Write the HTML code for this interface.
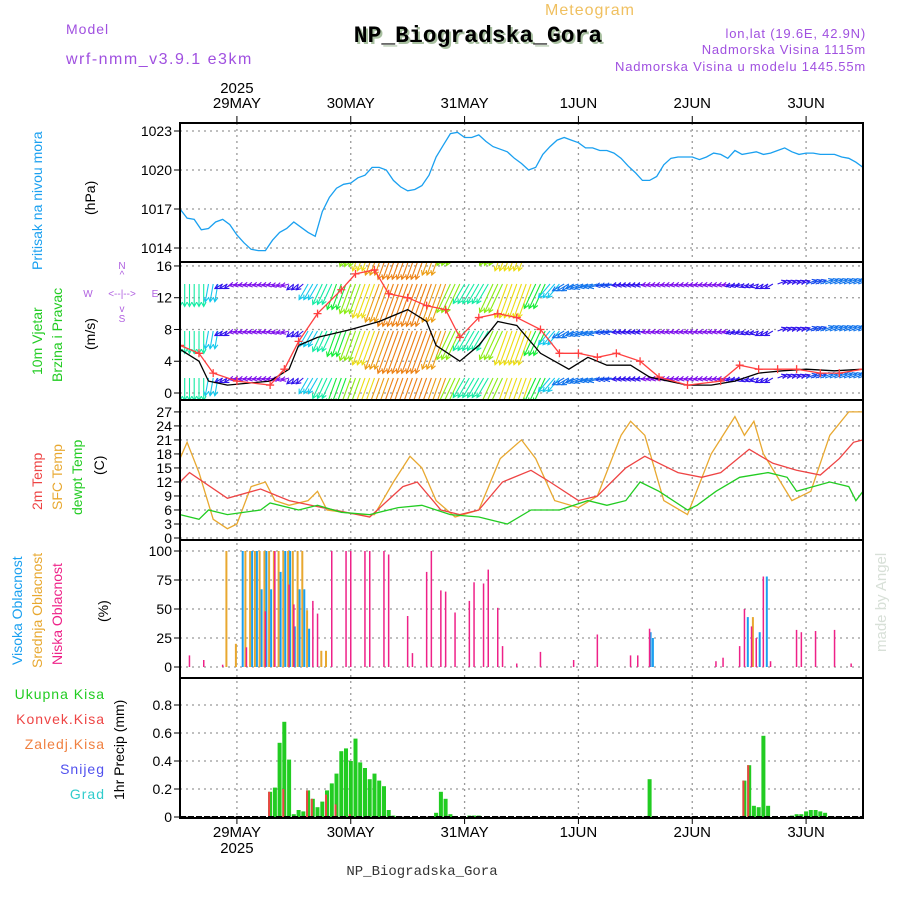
<!DOCTYPE html>
<html><head><meta charset="utf-8"><style>
html,body{margin:0;padding:0;background:#fff;width:900px;height:900px;overflow:hidden}
svg{display:block}
text{font-family:"Liberation Sans",sans-serif}
</style></head><body>
<svg id="chart" width="900" height="900" viewBox="0 0 900 900" xmlns="http://www.w3.org/2000/svg">
<defs><clipPath id="windclip"><rect x="180" y="262" width="683" height="138"/></clipPath></defs>
<g>
<text x="590" y="15" font-size="16" fill="#f0c060" text-anchor="middle" letter-spacing="1">Meteogram</text>
<text x="66" y="34" font-size="14" fill="#a050e0" letter-spacing="1">Model</text>
<text x="66" y="64" font-size="16" fill="#a050e0" letter-spacing="1.5">wrf-nmm_v3.9.1 e3km</text>
<text x="480" y="44" font-size="23" font-weight="bold" fill="#a8c0a0" text-anchor="middle" style="font-family:'Liberation Mono',monospace">NP_Biogradska_Gora</text>
<text x="478" y="42" font-size="23" font-weight="bold" fill="#000" text-anchor="middle" style="font-family:'Liberation Mono',monospace">NP_Biogradska_Gora</text>
<text x="866" y="38" font-size="13" fill="#a050e0" text-anchor="end" letter-spacing="0.8">lon,lat (19.6E, 42.9N)</text>
<text x="866" y="54" font-size="13" fill="#a050e0" text-anchor="end" letter-spacing="0.8">Nadmorska Visina 1115m</text>
<text x="866" y="71" font-size="13" fill="#a050e0" text-anchor="end" letter-spacing="0.8">Nadmorska Visina u modelu 1445.55m</text>
</g>
<g id="grid"></g>
<g id="marks"></g>
<g id="axes"></g>
<g font-size="14">
<text transform="translate(42,270) rotate(-90)" fill="#1aa0f0">Pritisak na nivou mora</text>
<text transform="translate(95,215) rotate(-90)" fill="#000">(hPa)</text>
<text transform="translate(42,375) rotate(-90)" fill="#22cc22">10m Vjetar</text>
<text transform="translate(62,382) rotate(-90)" fill="#22cc22">Brzina i Pravac</text>
<text transform="translate(95,350) rotate(-90)" fill="#000">(m/s)</text>
<g fill="#b060e0" font-size="10">
<text x="122" y="269" text-anchor="middle">N</text><text x="122" y="278" text-anchor="middle">^</text>
<text x="88" y="297" text-anchor="middle">W</text><text x="122" y="297" text-anchor="middle">&lt;--|--&gt;</text><text x="155" y="297" text-anchor="middle">E</text>
<text x="122" y="312" text-anchor="middle">v</text><text x="122" y="322" text-anchor="middle">S</text>
</g>
<text transform="translate(42,510) rotate(-90)" fill="#ee4444">2m Temp</text>
<text transform="translate(62,510) rotate(-90)" fill="#e8a830">SFC Temp</text>
<text transform="translate(82,515) rotate(-90)" fill="#22cc22">dewpt Temp</text>
<text transform="translate(104,475) rotate(-90)" fill="#000">(C)</text>
<text transform="translate(22,665) rotate(-90)" fill="#1aa0f0">Visoka Oblacnost</text>
<text transform="translate(42,668) rotate(-90)" fill="#e8a830">Srednja Oblacnost</text>
<text transform="translate(62,665) rotate(-90)" fill="#ee2288">Niska Oblacnost</text>
<text transform="translate(108,622) rotate(-90)" fill="#000">(%)</text>
<text x="105" y="699" text-anchor="end" fill="#22cc22" letter-spacing="1">Ukupna  Kisa</text>
<text x="105" y="724" text-anchor="end" fill="#ee4444" letter-spacing="1">Konvek.Kisa</text>
<text x="105" y="749" text-anchor="end" fill="#f08040" letter-spacing="1">Zaledj.Kisa</text>
<text x="105" y="774" text-anchor="end" fill="#5050ee" letter-spacing="1">Snijeg</text>
<text x="105" y="799" text-anchor="end" fill="#30cccc" letter-spacing="1">Grad</text>
<text transform="translate(124,800) rotate(-90)" fill="#000">1hr Precip (mm)</text>
<text transform="translate(886,652) rotate(-90)" fill="#d8e0d8" font-size="15">made by Angel</text>
</g>
<text x="422" y="875" font-size="14" fill="#333" text-anchor="middle" style="font-family:'Liberation Mono',monospace">NP_Biogradska_Gora</text>
</svg>
<script>
// ---- data ----
const dayLabels = ["29MAY","30MAY","31MAY","1JUN","2JUN","3JUN"];
const dayHours = [12,36,60,84,108,132];
const pressTicks = [1014,1017,1020,1023];
const windTicks = [0,4,8,12,16];
const tempTicks = [0,3,6,9,12,15,18,21,24,27];
const cloudTicks = [0,25,50,75,100];
const precipTicks = [0,0.2,0.4,0.6,0.8];
const pressure = [1017.0,1016.3,1016.2,1015.4,1015.5,1016.0,1016.2,1015.8,1015.0,1014.4,1013.9,1013.8,1013.8,1014.6,1015.2,1015.5,1016.0,1015.6,1015.2,1014.9,1016.8,1017.9,1018.6,1018.9,1019.0,1019.4,1019.6,1020.2,1020.2,1020.0,1019.2,1018.7,1018.4,1018.5,1018.8,1019.6,1021.0,1021.9,1022.8,1022.9,1022.5,1022.5,1022.7,1022.2,1021.8,1021.6,1021.4,1020.9,1020.5,1020.0,1020.2,1021.2,1021.8,1022.3,1022.5,1022.3,1022.1,1021.7,1021.7,1021.5,1021.5,1021.3,1020.9,1020.3,1019.8,1019.2,1019.2,1019.5,1020.4,1020.9,1021.0,1021.0,1021.0,1020.8,1021.0,1021.3,1021.2,1020.9,1021.5,1021.2,1021.3,1021.4,1021.2,1021.3,1021.5,1021.7,1021.4,1021.2,1021.3,1021.3,1021.2,1021.2,1021.2,1021.0,1020.9,1020.6,1020.2];
const t2mHours = [0,2,10,17,23,30,40,47,50,55,59,63,68,74,78,84,88,94,98,101,105,110,114,120,125,130,135,139,142,144];
const t2m = [12,14,8.5,10.5,8,6.5,4.5,11,12,6,5,6,12,14.5,12,8,9,15,17.5,16,14,13,14,19,16,14.5,13.5,17,20.5,21];
const sfcHours = [0,1.5,4,7,10,12,15,18,20,23,27,29,31,38,41,45,48.5,51,54,58,63,67.5,72,75,79,84,88,93,95,98,102,107,112,117,119,121,123,129,133,137,141,144];
const sfcTemp = [17,20.5,14,4,2,3,11,12,8,7,8,10,6,5,5,12,17.5,15,8,4.5,6,17,21,17,8,6.5,9,22,25,22,8,5,18,26,22,25,18,8,10,22,27,27];
const dewHours = [0,4,6,10,17,19,25,29,34,40,46,51,57,63,69,74,80,86,90,94,97,101,107,109,113,118,124,128,130,137,141,142.5,144];
const dewpt = [5,4,6,5,6,7.5,6,7,5.5,5,6.5,7,5,4.5,3,6,6,8,7,8,12,10,6,7,10,13,14,13,10,12,11,8,10];
const gustHours = [0,4,7,12,19,22,25,29,34,37,41,44,48,52,56,59,63,67,71,76,80,84,88,92,97,101,107,114,118,122,126,130,135,139,144];
const gust = [6,5,2.5,1.5,1,3,6.5,10,13,15,15.5,12.5,12,11,10.5,7,9.5,10,9.5,8,5,5,4.5,5,4,2,1,1.5,3.5,3,3,3,2.5,2.5,3];
const speedHours = [0,4,6,10,19,23,25,29,36,42,48,52,54,59,63,67,71,76,82,86,90,95,99,103,107,112,117,122,127,132,138,144];
const speed = [5.5,4,1.5,1,1.5,3,6,7,8,9,10.5,9,6,4,6,9,8.5,5,3,4.5,3.5,3.5,2,1.5,1,1,1.5,2.5,2.8,3,2.8,3];
const windSpd = [5,5,4,2,1.5,1.5,1.5,1.5,2,4,5,6,7,8,9,10,10,10,9,7,5,5,7,8,8,6,4,3,3,3,2.5,2,2,1.5,1.5,1.5,1.5,1.5,1.5,2,2,2,2,2,2.5,3,3,3,3];
const windDir = [0,0,10,60,80,80,80,75,50,30,25,20,20,20,20,20,20,20,20,25,30,30,25,20,20,25,40,60,70,75,80,80,80,80,80,80,80,80,80,75,70,60,250,250,250,250,250,250,250];
const highHours = [13,15,16,17,18,19,21,22,23,24,25,26,27,99,99.5,119.5,122,123.5];
const highCloud = [100,100,100,67,100,67,82,100,100,35,67,67,33,30,25,43,30,78];
const midHours = [10,12,14,15,16,17,18,19,20,21,22,23,24,25,26,27,30,31,121];
const midCloud = [100,20,100,100,100,100,100,100,100,100,100,100,100,100,100,49,14,14,43];
const lowHours = [2,5,9,14,18,20,23,24,28,29,32,35,36,39,40,43,44,48,49,52,53,55,56,58,61,62,64,65,67,68,71,76,83,88,95,96.5,99,113,114.5,118,119,120.5,121.5,123,124.5,130,131,134,138,141.5];
const lowCloud = [10,6,2,17,48,100,71,54,57,46,100,100,100,100,100,100,97,44,12,82,100,66,65,47,57,73,72,84,51,18,3,13,6,28,10,10,33,5,8,18,50,35,25,78,5,32,30,31,32,3];
const precipHours = [19,20,21,22,23,24,25,26,27,28,29,30,31,32,33,34,35,36,37,38,39,40,41,42,43,44,45,54,55,56,57,61,62,63,99,119,120,121,122,123,124,129,130,131,132,133,134,135,136];
const totalPrecip = [0.18,0.21,0.53,0.68,0.41,0.02,0.05,0.04,0.19,0.13,0.07,0.11,0.19,0.24,0.31,0.47,0.49,0.40,0.56,0.39,0.35,0.27,0.31,0.26,0.22,0.05,0.01,0.03,0.18,0.13,0.02,0.01,0.01,0.01,0.27,0.26,0.37,0.08,0.07,0.58,0.08,0.01,0.02,0.02,0.04,0.05,0.05,0.04,0.03];
const convHours = [19,22,27,28,31,33,36,119,120];
const convPrecip = [0.18,0.2,0.19,0.13,0.16,0.09,0.02,0.26,0.37];

// ---- scales ----
const X0=180, X1=863, H=144;
const x = h => X0 + h*(X1-X0)/H;
const yPr = v => 131 + (1023-v)*13;
const yW = v => 393 - v*7.94;
const yT = v => 538 - v*4.67;
const yC = v => 667 - v*1.16;
const yP = v => 817 - v*140;
const NS='http://www.w3.org/2000/svg';
function mk(tag, parent, attrs){const e=document.createElementNS(NS,tag);for(const k in attrs)e.setAttribute(k,attrs[k]);parent.appendChild(e);return e;}
const grid=document.getElementById('grid'), marks=document.getElementById('marks'), axes=document.getElementById('axes');
const panels=[[123,262],[262,400],[400,540],[540,678],[678,818]];

dayHours.forEach(h=>{
  const l=mk('line',grid,{x1:x(h),x2:x(h),y1:123,y2:818,stroke:'#999','stroke-width':1.3,'stroke-dasharray':'2,4'});
  
  
});
function hgrid(ticks, yf, labelFmt){
  ticks.forEach(t=>{
    const y=yf(t);
    const l=mk('line',grid,{x1:X0,x2:X1,y1:y,y2:y,stroke:'#999','stroke-width':1.3,'stroke-dasharray':'2,4'});
    
    
    const tk=mk('line',axes,{x1:X0-6,x2:X0,y1:y,y2:y,stroke:'#000'});
    
    
    const tx=mk('text',axes,{x:X0-8,y:y+5,'font-size':14,'text-anchor':'end',fill:'#000'});
    
    
    tx.textContent=labelFmt(t);
  });
}
hgrid(pressTicks,yPr,t=>t);
hgrid(windTicks,yW,t=>t);
hgrid(tempTicks,yT,t=>t);
hgrid(cloudTicks,yC,t=>t);
hgrid(precipTicks,yP,t=>t===0?'0':t.toFixed(1));

function line(hs, vs, yf, color, name, w){
  const d=vs.map((v,i)=>(i?'L':'M')+x(hs[i]).toFixed(1)+','+yf(v).toFixed(1)).join('');
  const p=mk('path',marks,{d:d,fill:'none',stroke:color,'stroke-width':w||1.3});
  
  
}
line(pressure.map((v,i)=>i*H/(pressure.length-1)),pressure,yPr,'#1aa0f0','pressure-line');
line(sfcHours,sfcTemp,yT,'#e8a830','sfc-temp-line');
line(t2mHours,t2m,yT,'#ee4444','temp-2m-line');
line(dewHours,dewpt,yT,'#22cc22','dewpt-line');

// wind
const wg=mk('g',marks,{'clip-path':'url(#windclip)'});


function spdColor(s){
  const stops=[[1.5,270],[2.5,225],[4,190],[6,130],[7.5,65],[9,38],[11,22]];
  let hue;
  if(s<=stops[0][0]) hue=270; else if(s>=11) hue=22; else {
    for(let i=0;i<stops.length-1;i++){if(s>=stops[i][0]&&s<=stops[i+1][0]){const f=(s-stops[i][0])/(stops[i+1][0]-stops[i][0]);hue=stops[i][1]+f*(stops[i+1][1]-stops[i][1]);break;}}
  }
  return 'hsl('+hue.toFixed(0)+',85%,50%)';
}
const anchors=[237,284,331,378];
anchors.forEach(ay=>{
  windSpd.forEach((s,i)=>{
    for(let k=0;k<3;k++){
      const h=i*3+k; if(h>H) break;
      const d=windDir[i]*Math.PI/180, len=Math.max(8,4.5*s);
      const x1=x(h), y1=ay, x2=x1-Math.sin(d)*len, y2=y1+Math.cos(d)*len;
      const ang=Math.atan2(y2-y1,x2-x1), hl=5;
      const dd='M'+x1.toFixed(1)+','+y1+'L'+x2.toFixed(1)+','+y2.toFixed(1)+
        'M'+(x2-hl*Math.cos(ang-0.5)).toFixed(1)+','+(y2-hl*Math.sin(ang-0.5)).toFixed(1)+'L'+x2.toFixed(1)+','+y2.toFixed(1)+
        'L'+(x2-hl*Math.cos(ang+0.5)).toFixed(1)+','+(y2-hl*Math.sin(ang+0.5)).toFixed(1);
      const a=mk('path',wg,{d:dd,fill:'none',stroke:spdColor(s),'stroke-width':1.1});
      
      
    }
  });
});
{
  const d=speed.map((v,i)=>(i?'L':'M')+x(speedHours[i]).toFixed(1)+','+yW(v).toFixed(1)).join('');
  const p=mk('path',wg,{d:d,fill:'none',stroke:'#000','stroke-width':1.3});
  
  
  const g=gust.map((v,i)=>(i?'L':'M')+x(gustHours[i]).toFixed(1)+','+yW(v).toFixed(1)).join('');
  const pg=mk('path',wg,{d:g,fill:'none',stroke:'#ff4040','stroke-width':1.3});
  
  
  gust.forEach((v,i)=>{
    const cx=x(gustHours[i]), cy=yW(v);
    const c=mk('path',wg,{d:'M'+(cx-4)+','+cy+'h8M'+cx+','+(cy-4)+'v8',stroke:'#ff4040','stroke-width':1.3});
    
    
  });
}

function bars(hs, vs, yf, color, w, off, name){
  vs.forEach((v,i)=>{
    const y0=yf(0), y=yf(v);
    const r=mk('rect',marks,{x:(x(hs[i])+off-w/2).toFixed(1),y:y.toFixed(1),width:w,height:Math.max(0,y0-y).toFixed(1),fill:color});
    
    
  });
}
bars(midHours,midCloud,yC,'#e8a830',2,-1,'mid-cloud-bar');
bars(highHours,highCloud,yC,'#1aa0f0',2,1,'high-cloud-bar');
bars(lowHours,lowCloud,yC,'#ee2288',1.5,0,'low-cloud-bar');
bars(precipHours,totalPrecip,yP,'#22cc22',4,0,'total-precip-bar');
bars(convHours,convPrecip,yP,'#ee4444',2,-1,'convective-precip-bar');
{
  const b=mk('line',marks,{x1:X0,x2:X1,y1:817,y2:817,stroke:'#000','stroke-width':2,'stroke-dasharray':'6,2'});
  
  
}

panels.forEach(p=>{
  const r=mk('rect',axes,{x:X0,y:p[0],width:X1-X0,height:p[1]-p[0],fill:'none',stroke:'#000','stroke-width':2});
  
  
});
dayHours.forEach((h,i)=>{
  [[108,113],[837,818]].forEach(([ty],k)=>{
    const t=mk('text',axes,{x:x(h),y:ty,'font-size':15,'text-anchor':'middle',fill:'#000'});
    
    
    t.textContent=dayLabels[i];
    const tk=mk('line',axes,{x1:x(h),x2:x(h),y1:k?818:116,y2:k?824:123,stroke:'#000'});
    
    
  });
});
[[93],[853]].forEach(([ty],k)=>{
  const t=mk('text',axes,{x:x(dayHours[0]),y:ty,'font-size':15,'text-anchor':'middle',fill:'#000'});
  
  
  t.textContent='2025';
});
</script>
</body></html>
